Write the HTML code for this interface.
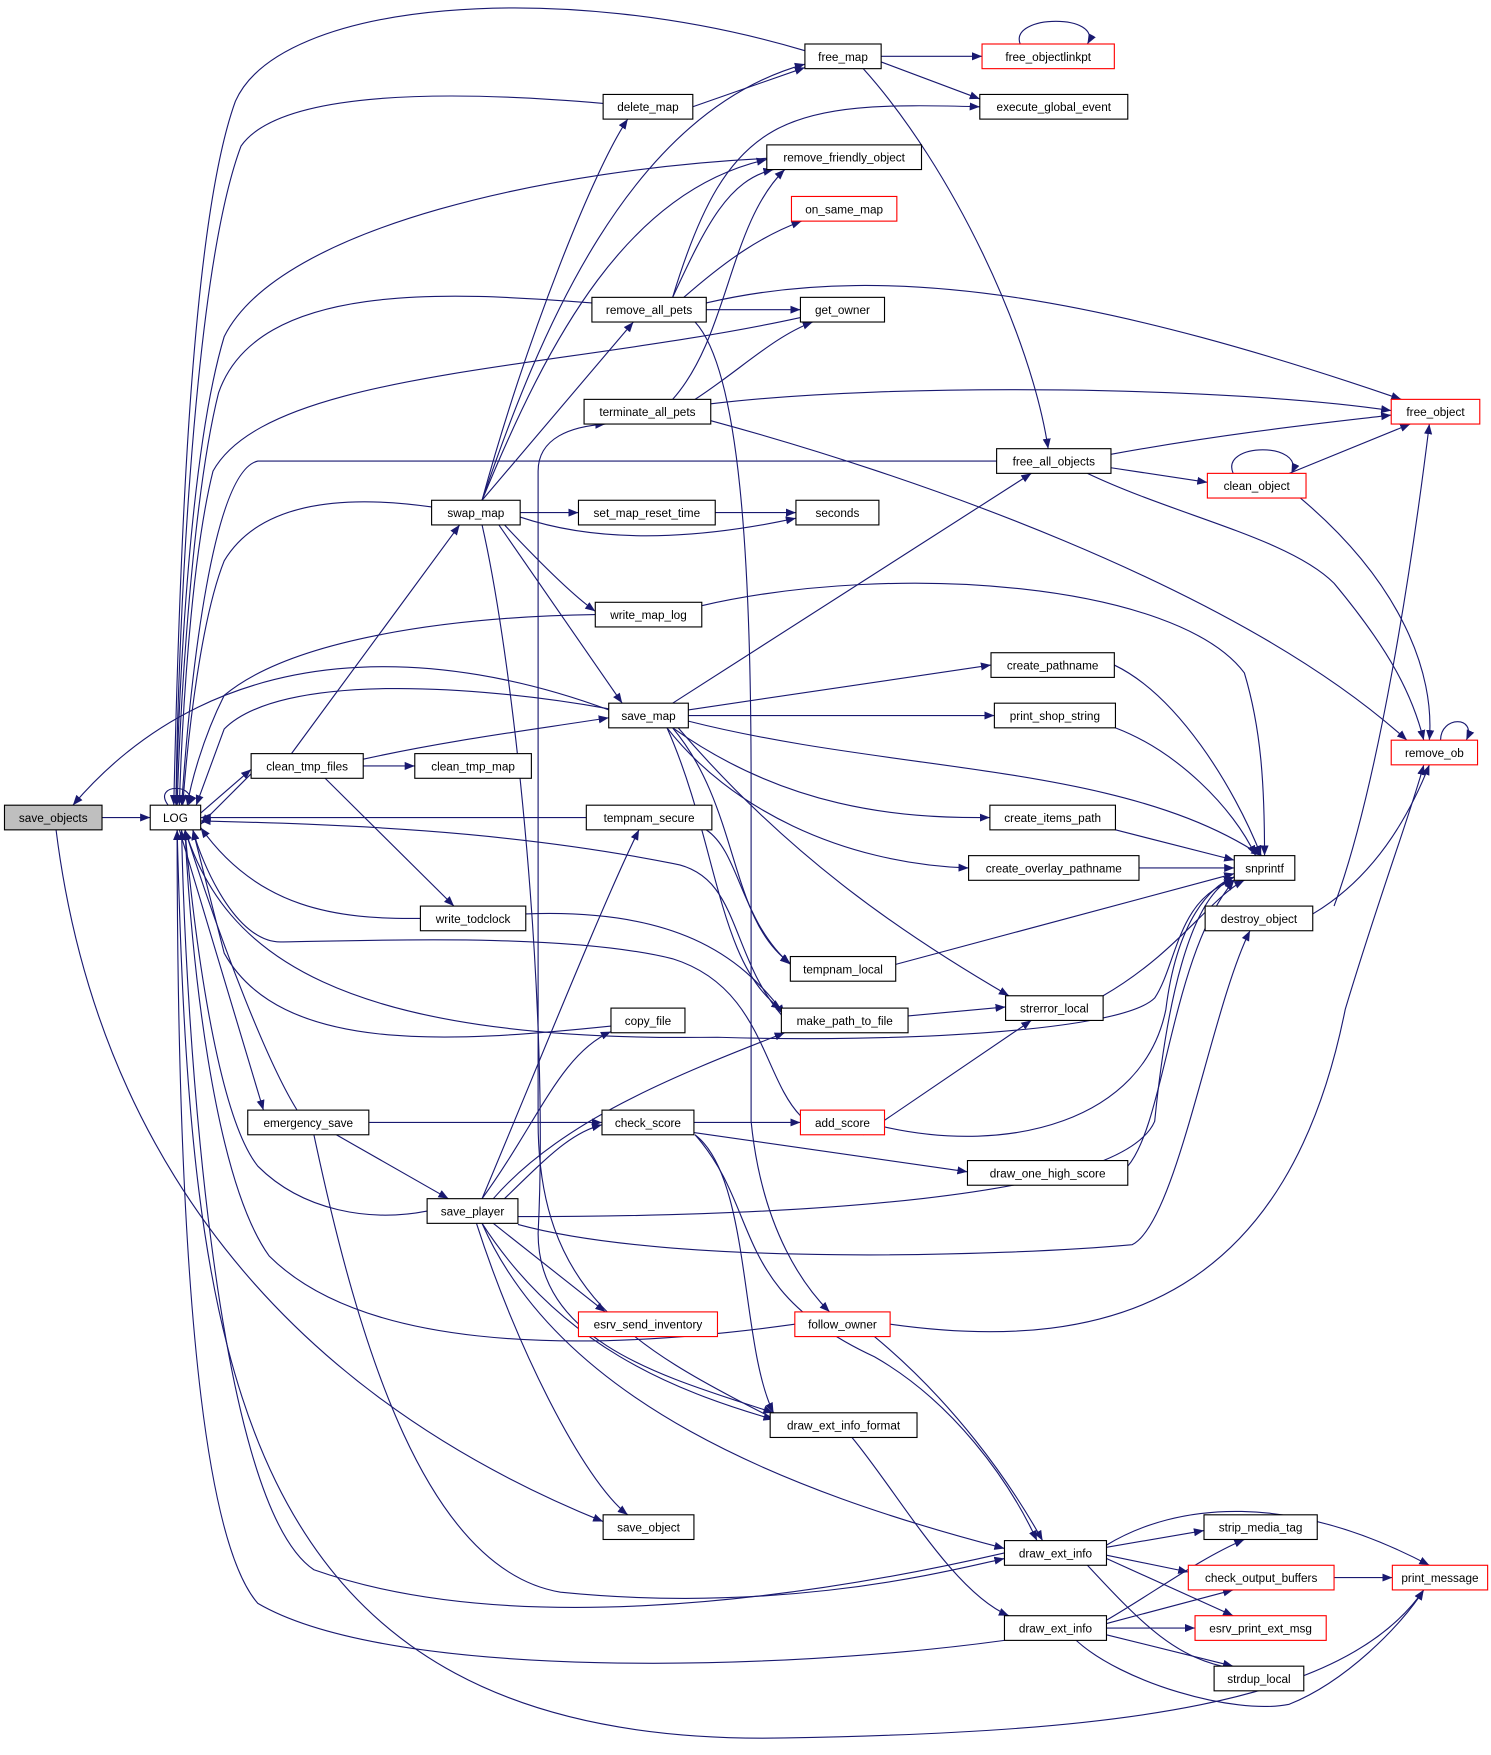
<!DOCTYPE html>
<html><head><meta charset="utf-8"><style>html,body{margin:0;padding:0;background:#fff}svg{display:block}</style></head>
<body>
<svg width="1491" height="1755" viewBox="0 0 1330 1565" xmlns="http://www.w3.org/2000/svg">
<defs><marker id="a" viewBox="0 0 10 10" refX="10" refY="5" markerWidth="9" markerHeight="9" markerUnits="userSpaceOnUse" orient="auto"><path d="M0,1 L10,5 L0,9 z" fill="#191970"/></marker></defs>
<g fill="none" stroke="#191970" stroke-width="1" marker-end="url(#a)">
<path d="M91,729 L134,729"/>
<path d="M543,633 C400,580 200,560 65,718"/>
<path d="M50,740 C70,900 150,1200 538,1357"/>
<path d="M150,718 C135,698 178,698 168,718"/>
<path d="M179,725 L224,686"/>
<path d="M224,690 L179,735"/>
<path d="M160,740 L235,990"/>
<path d="M265,990 C240,950 200,850 165,740"/>
<path d="M718,45 C500,-20 250,0 210,90 C170,200 160,500 155,718"/>
<path d="M538,92 C400,80 250,80 215,130 C170,250 158,600 157,718"/>
<path d="M684,141 C500,150 250,200 200,300 C170,400 160,600 157,718"/>
<path d="M528,270 C400,260 230,250 195,350 C170,450 160,650 158,718"/>
<path d="M714,283 C500,330 240,330 190,420 C170,500 162,650 160,718"/>
<path d="M889,411 L230,411 C190,420 170,600 162,718"/>
<path d="M385,452 C300,440 230,450 200,500 C180,550 168,650 163,718"/>
<path d="M531,548 C400,550 260,570 200,620 C180,660 170,700 167,718"/>
<path d="M543,632 C420,610 250,600 200,650 L175,718"/>
<path d="M523,729 L179,729"/>
<path d="M697,905 C650,850 660,780 600,770 C450,740 300,735 179,732"/>
<path d="M375,819 C300,820 230,810 179,738"/>
<path d="M714,995 C680,960 680,880 600,855 C500,830 300,840 250,840 C210,840 180,770 172,740"/>
<path d="M545,915 C400,930 250,940 200,850 L172,740"/>
<path d="M381,1080 C330,1090 270,1080 230,1040 C190,990 170,800 165,740"/>
<path d="M709,1181 C500,1210 320,1200 240,1120 C190,1050 170,850 165,740"/>
<path d="M896,1385 C700,1430 450,1460 280,1400 C190,1340 165,900 162,740"/>
<path d="M896,1463 C700,1490 350,1500 230,1430 C160,1350 158,900 158,740"/>
<path d="M158,740 C170,1200 200,1560 700,1550 C1000,1545 1200,1520 1270,1418"/>
<path d="M430,446 C470,300 530,150 560,106"/>
<path d="M430,446 C480,300 560,100 718,57"/>
<path d="M430,446 C490,300 560,170 684,142"/>
<path d="M430,446 L565,287"/>
<path d="M464,457 L516,457"/>
<path d="M464,461 C550,490 650,475 710,462"/>
<path d="M450,468 C480,500 510,530 531,545"/>
<path d="M445,468 L555,627"/>
<path d="M430,468 C460,600 490,900 480,1100 C480,1200 600,1230 690,1260"/>
<path d="M638,457 L710,457"/>
<path d="M786,50 L876,50"/>
<path d="M786,55 L874,88"/>
<path d="M770,61 C850,150 920,300 935,400"/>
<path d="M910,39 C900,12 985,12 970,39"/>
<path d="M618,95 L718,60"/>
<path d="M600,265 C630,200 650,160 690,151"/>
<path d="M610,265 C650,230 680,210 715,197"/>
<path d="M630,276 L714,276"/>
<path d="M630,270 C800,230 1000,270 1250,356"/>
<path d="M620,287 C660,330 670,500 670,700 L670,1000 C680,1100 720,1150 740,1170"/>
<path d="M600,265 C650,100 700,90 874,95"/>
<path d="M600,356 C650,300 650,200 700,151"/>
<path d="M620,356 C660,330 690,300 725,287"/>
<path d="M634,360 C800,340 1100,345 1241,366"/>
<path d="M634,375 C800,420 1100,520 1255,660"/>
<path d="M991,405 C1100,385 1200,375 1241,370"/>
<path d="M991,417 L1077,430"/>
<path d="M970,422 C1050,460 1150,480 1190,520 C1240,580 1260,620 1270,660"/>
<path d="M1100,422 C1088,394 1165,394 1152,422"/>
<path d="M1150,422 L1258,378"/>
<path d="M1160,444 C1250,520 1280,600 1275,660"/>
<path d="M1285,660 C1285,638 1318,638 1308,660"/>
<path d="M1190,808 C1230,700 1260,500 1275,378"/>
<path d="M1171,815 C1230,780 1260,720 1275,682"/>
<path d="M626,540 C800,500 1050,520 1110,600 C1125,650 1128,700 1128,763"/>
<path d="M600,627 L920,422"/>
<path d="M614,633 L884,593"/>
<path d="M614,638 L887,638"/>
<path d="M614,643 C800,690 1000,680 1125,763"/>
<path d="M600,649 C700,720 800,730 883,729"/>
<path d="M595,649 C650,720 750,770 864,774"/>
<path d="M605,649 C700,760 800,830 900,888"/>
<path d="M600,649 C660,720 650,820 705,859"/>
<path d="M595,649 C640,750 640,860 697,900"/>
<path d="M994,593 C1050,620 1100,700 1125,763"/>
<path d="M995,649 C1050,670 1100,720 1120,763"/>
<path d="M995,740 L1101,767"/>
<path d="M1016,774 L1101,774"/>
<path d="M799,860 L1101,779"/>
<path d="M984,888 C1050,850 1080,800 1110,785"/>
<path d="M810,906 L897,898"/>
<path d="M630,740 C660,760 660,820 705,860"/>
<path d="M469,815 C600,810 660,850 700,905"/>
<path d="M165,740 C200,850 300,930 640,925 C800,930 1000,920 1030,890 C1050,860 1050,800 1101,785"/>
<path d="M260,672 L410,468"/>
<path d="M324,677 C400,660 480,650 543,640"/>
<path d="M324,683 L370,683"/>
<path d="M290,694 L405,808"/>
<path d="M329,1001 L537,1001"/>
<path d="M300,1012 L400,1069"/>
<path d="M280,1012 C320,1200 380,1400 500,1420 C700,1440 850,1400 896,1390"/>
<path d="M619,1001 L714,1001"/>
<path d="M619,1010 L863,1045"/>
<path d="M620,1012 C670,1050 660,1200 690,1260"/>
<path d="M620,1012 C680,1080 650,1150 780,1210 C850,1250 900,1320 925,1374"/>
<path d="M770,1012 L920,910"/>
<path d="M789,1005 C900,1030 1020,1000 1040,900 C1050,820 1080,790 1101,782"/>
<path d="M1006,1040 C1040,1000 1045,850 1101,785"/>
<path d="M462,1085 C700,1085 1000,1070 1030,1000 C1040,900 1060,800 1101,782"/>
<path d="M462,1092 C600,1130 900,1120 1010,1110 C1050,1090 1080,900 1115,830"/>
<path d="M430,1069 C480,950 540,800 570,740"/>
<path d="M430,1069 C480,1000 500,940 545,920"/>
<path d="M440,1069 C500,1000 600,960 700,921"/>
<path d="M450,1069 C490,1030 510,1010 537,1003"/>
<path d="M440,1091 L540,1170"/>
<path d="M430,1091 C500,1200 600,1240 690,1266"/>
<path d="M425,1091 C460,1200 520,1320 560,1351"/>
<path d="M430,1091 C500,1250 700,1330 896,1381"/>
<path d="M690,1265 C560,1200 480,1150 480,1000 L480,420 C480,390 510,380 540,378"/>
<path d="M794,1181 C1000,1210 1150,1150 1200,900 C1230,800 1260,720 1270,682"/>
<path d="M780,1192 C850,1250 900,1320 930,1374"/>
<path d="M760,1282 C800,1330 850,1420 900,1441"/>
<path d="M987,1380 L1074,1365"/>
<path d="M987,1387 L1060,1402"/>
<path d="M987,1390 L1100,1441"/>
<path d="M970,1396 C1020,1450 1050,1480 1100,1488"/>
<path d="M987,1378 C1050,1340 1150,1330 1275,1396"/>
<path d="M987,1445 C1030,1420 1070,1390 1110,1373"/>
<path d="M987,1448 L1100,1418"/>
<path d="M987,1452 L1066,1452"/>
<path d="M987,1458 L1100,1486"/>
<path d="M960,1463 C1000,1500 1100,1530 1150,1520 C1200,1500 1250,1450 1270,1418"/>
<path d="M1190,1407 L1242,1407"/>
</g>
<g font-family="Liberation Sans, sans-serif" font-size="10.5" text-anchor="middle" stroke-width="1">
<g fill="#fff" stroke="#000">
<rect x="4" y="718" width="87" height="22" fill="#bfbfbf"/>
<rect x="134" y="718" width="45" height="22"/>
<rect x="718" y="39" width="68" height="22"/>
<rect x="538" y="84" width="80" height="22"/>
<rect x="874" y="84" width="132" height="22"/>
<rect x="684" y="129" width="138" height="22"/>
<rect x="528" y="265" width="102" height="22"/>
<rect x="714" y="265" width="75" height="22"/>
<rect x="521" y="356" width="113" height="22"/>
<rect x="889" y="400" width="102" height="22"/>
<rect x="385" y="446" width="79" height="22"/>
<rect x="516" y="446" width="122" height="22"/>
<rect x="710" y="446" width="74" height="22"/>
<rect x="531" y="537" width="95" height="22"/>
<rect x="884" y="582" width="110" height="22"/>
<rect x="543" y="627" width="71" height="22"/>
<rect x="887" y="627" width="108" height="22"/>
<rect x="224" y="672" width="100" height="22"/>
<rect x="370" y="672" width="104" height="22"/>
<rect x="523" y="718" width="112" height="22"/>
<rect x="883" y="718" width="112" height="22"/>
<rect x="864" y="763" width="152" height="22"/>
<rect x="1101" y="763" width="54" height="22"/>
<rect x="375" y="808" width="94" height="22"/>
<rect x="1075" y="808" width="96" height="22"/>
<rect x="705" y="853" width="94" height="22"/>
<rect x="897" y="888" width="87" height="22"/>
<rect x="545" y="899" width="66" height="22"/>
<rect x="697" y="899" width="113" height="22"/>
<rect x="221" y="990" width="108" height="22"/>
<rect x="537" y="990" width="82" height="22"/>
<rect x="863" y="1035" width="143" height="22"/>
<rect x="381" y="1069" width="81" height="22"/>
<rect x="687" y="1260" width="131" height="22"/>
<rect x="538" y="1351" width="81" height="22"/>
<rect x="1074" y="1351" width="101" height="22"/>
<rect x="896" y="1374" width="91" height="22"/>
<rect x="896" y="1441" width="91" height="22"/>
<rect x="1083" y="1486" width="80" height="22"/>
</g>
<g fill="#fff" stroke="#ff0000">
<rect x="876" y="39" width="118" height="22"/>
<rect x="706" y="175" width="94" height="22"/>
<rect x="1241" y="356" width="79" height="22"/>
<rect x="1077" y="422" width="88" height="22"/>
<rect x="1241" y="660" width="77" height="22"/>
<rect x="714" y="990" width="75" height="22"/>
<rect x="516" y="1170" width="124" height="22"/>
<rect x="709" y="1170" width="85" height="22"/>
<rect x="1060" y="1396" width="130" height="22"/>
<rect x="1242" y="1396" width="85" height="22"/>
<rect x="1066" y="1441" width="117" height="22"/>
</g>
<g fill="#000">
<text x="47.5" y="733">save_objects</text>
<text x="156.5" y="733">LOG</text>
<text x="752" y="54">free_map</text>
<text x="935" y="54">free_objectlinkpt</text>
<text x="578" y="99">delete_map</text>
<text x="940" y="99">execute_global_event</text>
<text x="753" y="144">remove_friendly_object</text>
<text x="753" y="190">on_same_map</text>
<text x="579" y="280">remove_all_pets</text>
<text x="751.5" y="280">get_owner</text>
<text x="577.5" y="371">terminate_all_pets</text>
<text x="1280.5" y="371">free_object</text>
<text x="940" y="415">free_all_objects</text>
<text x="1121" y="437">clean_object</text>
<text x="424.5" y="461">swap_map</text>
<text x="577" y="461">set_map_reset_time</text>
<text x="747" y="461">seconds</text>
<text x="578.5" y="552">write_map_log</text>
<text x="939" y="597">create_pathname</text>
<text x="578.5" y="642">save_map</text>
<text x="941" y="642">print_shop_string</text>
<text x="274" y="687">clean_tmp_files</text>
<text x="422" y="687">clean_tmp_map</text>
<text x="1279.5" y="675">remove_ob</text>
<text x="579" y="733">tempnam_secure</text>
<text x="939" y="733">create_items_path</text>
<text x="940" y="778">create_overlay_pathname</text>
<text x="1128" y="778">snprintf</text>
<text x="422" y="823">write_todclock</text>
<text x="1123" y="823">destroy_object</text>
<text x="752" y="868">tempnam_local</text>
<text x="940.5" y="903">strerror_local</text>
<text x="578" y="914">copy_file</text>
<text x="753.5" y="914">make_path_to_file</text>
<text x="275" y="1005">emergency_save</text>
<text x="578" y="1005">check_score</text>
<text x="751.5" y="1005">add_score</text>
<text x="934.5" y="1050">draw_one_high_score</text>
<text x="421.5" y="1084">save_player</text>
<text x="578" y="1185">esrv_send_inventory</text>
<text x="751.5" y="1185">follow_owner</text>
<text x="752.5" y="1275">draw_ext_info_format</text>
<text x="578.5" y="1366">save_object</text>
<text x="1124.5" y="1366">strip_media_tag</text>
<text x="941.5" y="1389">draw_ext_info</text>
<text x="1125" y="1411">check_output_buffers</text>
<text x="1284.5" y="1411">print_message</text>
<text x="941.5" y="1456">draw_ext_info</text>
<text x="1124.5" y="1456">esrv_print_ext_msg</text>
<text x="1123" y="1501">strdup_local</text>
</g>
</g>
</svg>
</body></html>
